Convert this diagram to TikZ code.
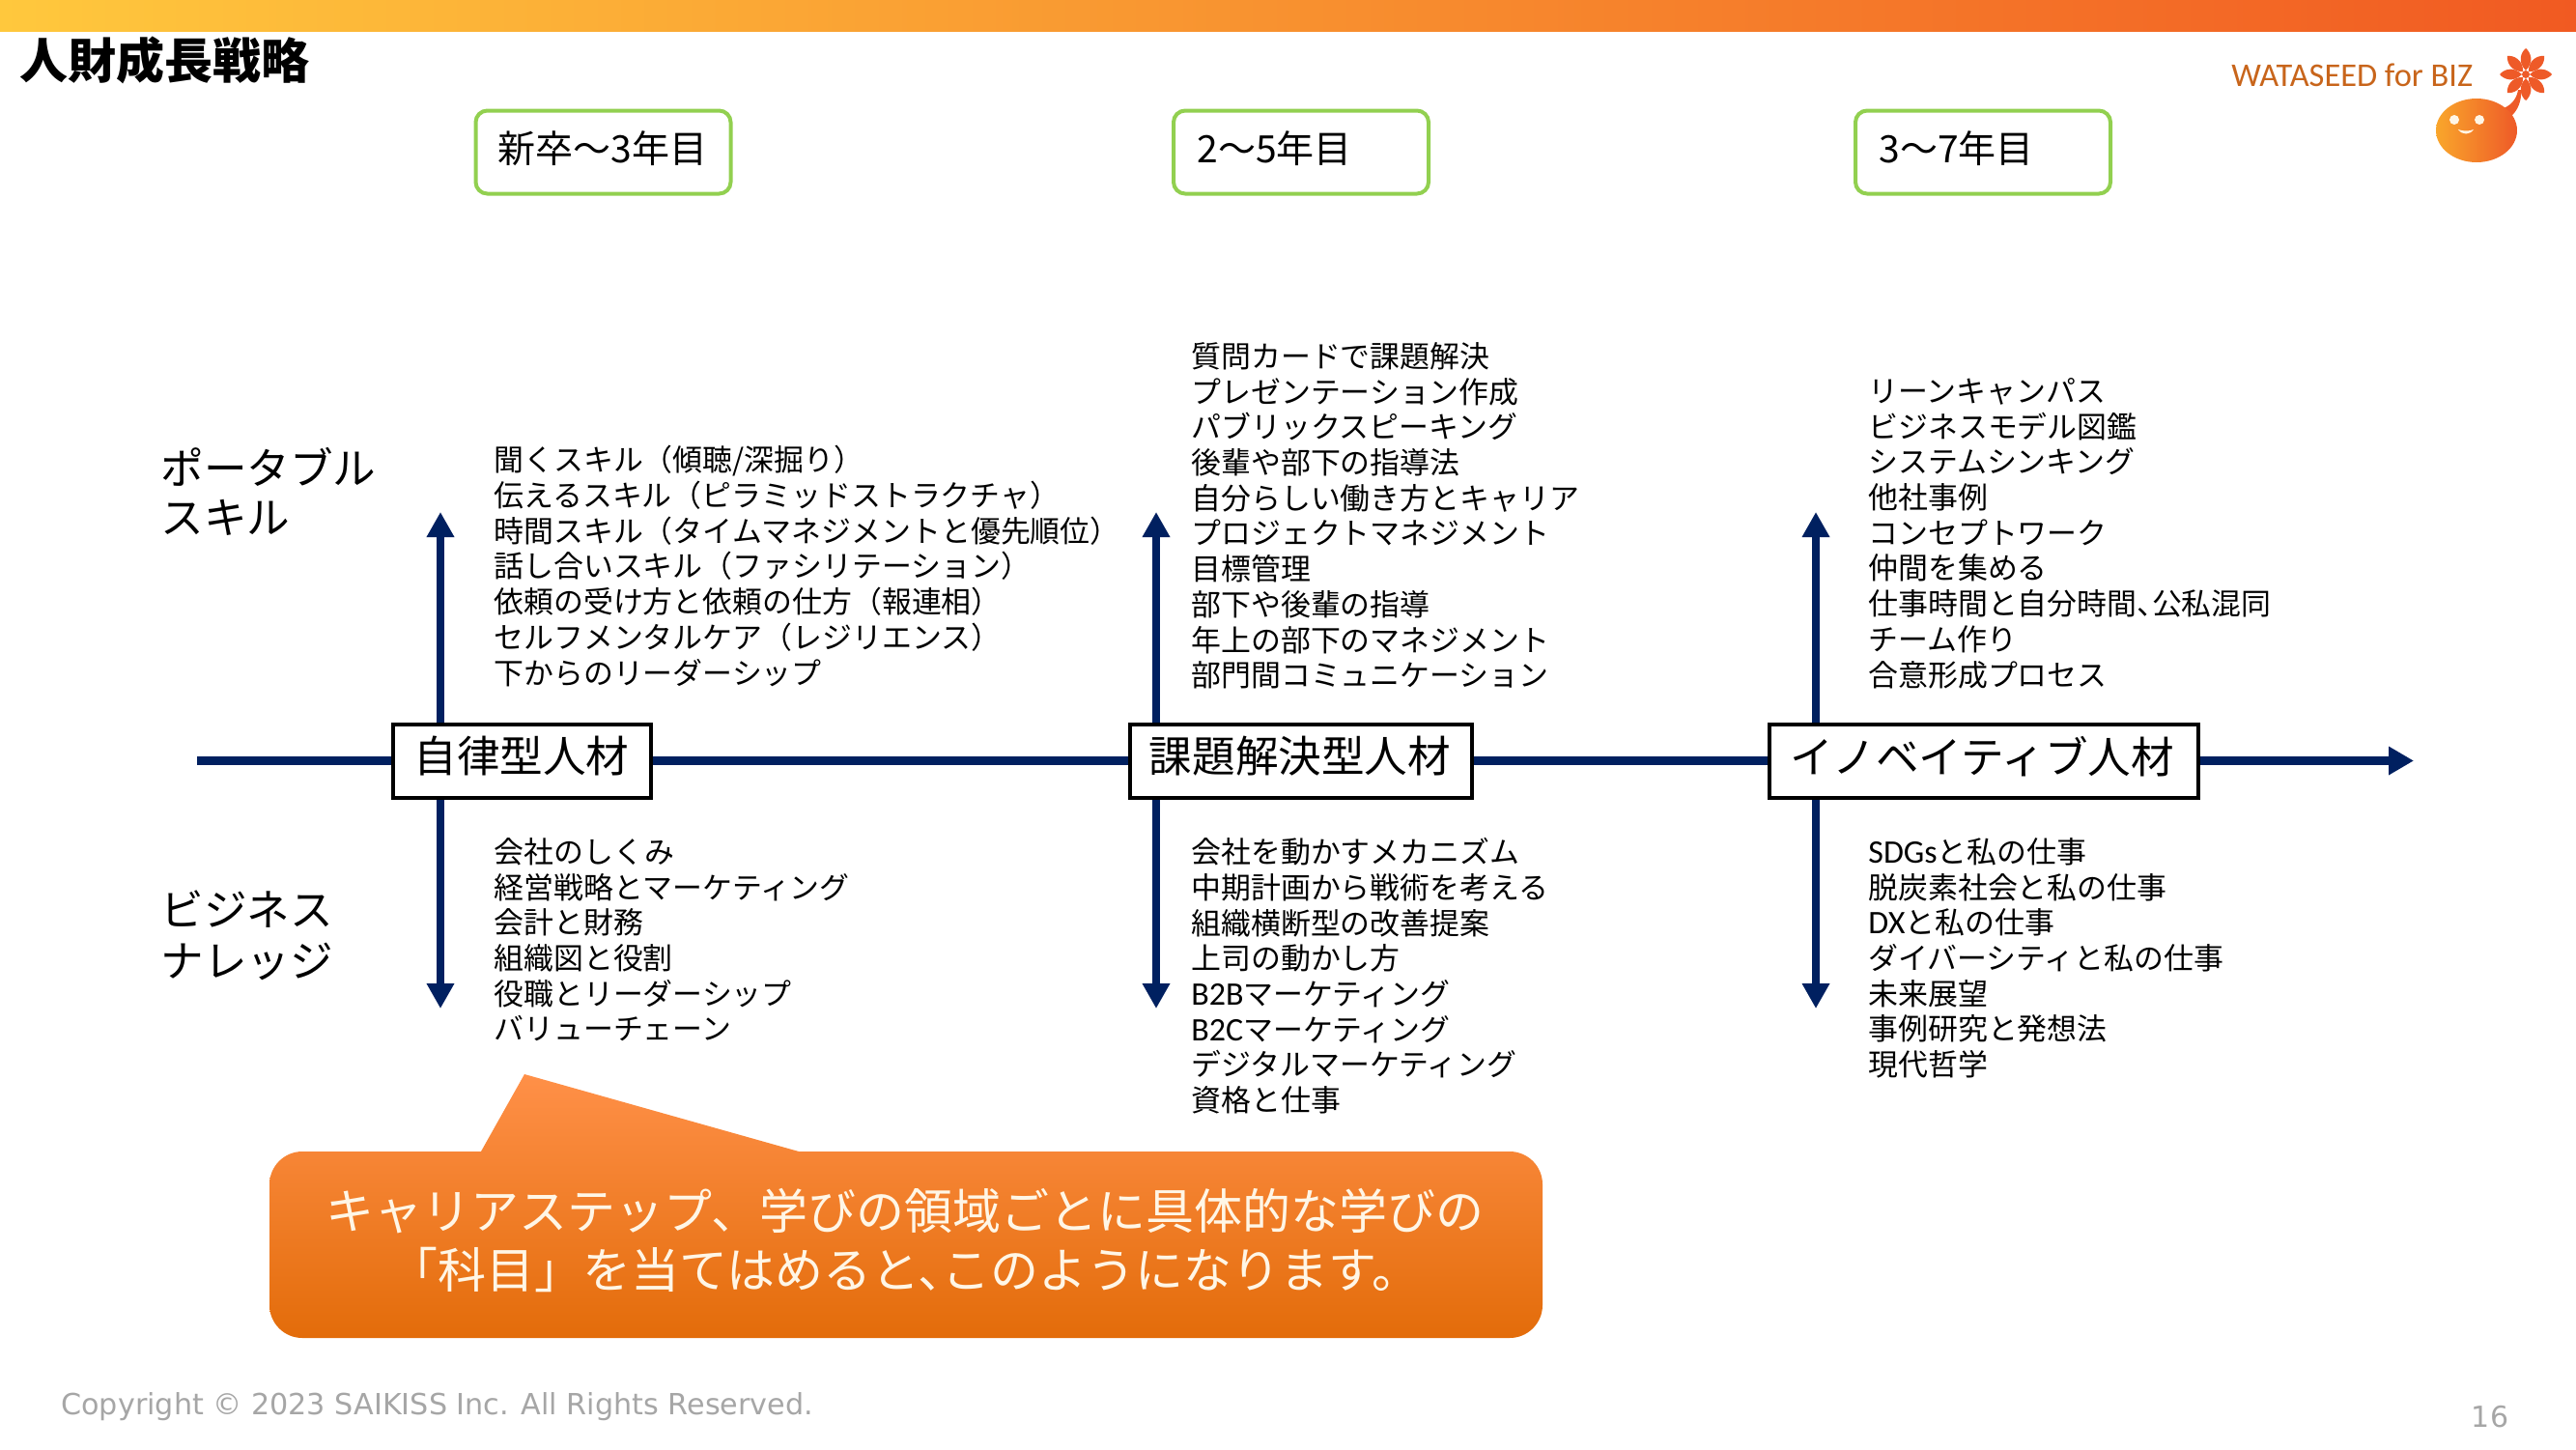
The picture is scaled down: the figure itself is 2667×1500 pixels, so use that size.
\documentclass[tikz,border=0pt]{standalone}
\usepackage{fontspec}
\setmainfont{Noto Sans CJK JP}
\newfontfamily\latinfont{DejaVu Sans}
\newfontfamily\logofont{Carlito}
\newcommand{\ltn}[1]{{\logofont\fontsize{17}{18.35}\selectfont #1}}
\newcommand{\nten}{、\kern-0.5em}
\usetikzlibrary{arrows.meta,shadings}
\definecolor{navy}{HTML}{002060}
\definecolor{grn}{HTML}{92D050}
\definecolor{logoor}{HTML}{C8651B}
\definecolor{flower}{HTML}{EE5A28}
\definecolor{barL}{HTML}{FFC83D}
\definecolor{barM}{HTML}{F9A033}
\definecolor{barR}{HTML}{F15A22}
\definecolor{calT}{HTML}{FF9048}
\definecolor{calB}{HTML}{E36C0A}
\definecolor{bodyL}{HTML}{F9A62B}
\definecolor{cream}{HTML}{FFF6E6}
\tikzset{
  lst/.style={inner sep=0pt,anchor=north west,align=left,font=\fontsize{15.45}{18.35}\selectfont},
  stage/.style={draw=grn,line width=2pt,rounded corners=6pt,minimum width=132pt,minimum height=43pt,inner sep=0pt,fill=white},
  stagetxt/.style={inner sep=0pt,anchor=west,font=\fontsize{19.5}{22}\selectfont},
  kind/.style={draw=black,line width=2pt,fill=white,inner sep=0pt,minimum height=38pt},
  kindtxt/.style={inner sep=0pt,font=\fontsize{22.3}{26}\selectfont},
  axisln/.style={draw=navy,line width=4.5pt},
  vert/.style={draw=navy,line width=4pt,-{Triangle[length=13pt,width=13.5pt]}},
  side/.style={inner sep=0pt,anchor=west,font=\fontsize{22.3}{26}\selectfont},
}
\begin{document}
\begin{tikzpicture}[x=0.5pt,y=-0.5pt]
\useasboundingbox (0,0) rectangle (2667,1500);
\fill[white] (0,0) rectangle (2667,1500);
% top bar
\shade[left color=barL,middle color=barM,right color=barR] (0,0) rectangle (2667,32);
\node[inner sep=0pt,anchor=west,font=\bfseries\fontsize{25}{30}\selectfont] (title) at (20,62) {人財成長戦略};
% logo
\node[inner sep=0pt,anchor=west,text=logoor,font=\logofont\fontsize{17.2}{20}\selectfont] (logo) at (2310,78) {WATASEED for BIZ};
\foreach \a in {0,45,...,315}
  \fill[flower,rotate around={\a:(2615,77)}] (2619,77) .. controls (2628,68) and (2638,72) .. (2642,77) .. controls (2638,82) and (2628,86) .. (2619,77) -- cycle;
\fill[flower] (2615,77) circle (4);
\fill[flower] (2592,112) .. controls (2602,108) and (2606,100) .. (2607,93) -- (2610,93) .. controls (2611,105) and (2606,115) .. (2600,120) -- cycle;
\shade[left color=bodyL,right color=flower,shading=axis] (2564,135) ellipse (42 and 33);
\fill[cream] (2541,124) circle (5) (2567,124) circle (5);
\fill[cream] (2545,134) .. controls (2550,136) and (2557,136) .. (2561,134) .. controls (2557,140) and (2549,140) .. (2545,134) -- cycle;
% stages
\node[stage] (s1) at (624.5,157.5) {};
\node[stage] (s2) at (1347,157.5) {};
\node[stage] (s3) at (2053,157.5) {};
\node[stagetxt] (s1t) at (515,154) {新卒〜3年目};
\node[stagetxt] (s2t) at (1239,154) {2〜5年目};
\node[stagetxt] (s3t) at (1945,154) {3〜7年目};
% side labels
\node[side] (p1) at (166,483) {ポータブル};
\node[side] (p2) at (166,536) {スキル};
\node[side] (b1) at (166,941) {ビジネス};
\node[side] (b2) at (166,995) {ナレッジ};
% axis
\coordinate (axL) at (204,787.5);
\coordinate (axR) at (2499,787.5);
\node[kind,minimum width=133.5pt] (k1) at (540.5,787.5) {};
\node[kind,minimum width=177pt] (k2) at (1347,787.5) {};
\node[kind,minimum width=222pt] (k3) at (2054,787.5) {};
\node[kindtxt] (k1t) at (540,783) {自律型人材};
\node[kindtxt] (k2t) at (1346,783) {課題解決型人材};
\node[kindtxt] (k3t) at (2052,783) {イノベイティブ人材};
\draw[axisln] (axL) -- (k1);
\draw[axisln] (k1) -- (k2);
\draw[axisln] (k2) -- (k3);
\draw[axisln,-{Triangle[length=13pt,width=14pt]}] (k3) -- (axR);
% verticals
\coordinate (u1) at (456,530); \coordinate (d1) at (456,1044);
\coordinate (u2) at (1197,530); \coordinate (d2) at (1197,1044);
\coordinate (u3) at (1880,530); \coordinate (d3) at (1880,1044);
\draw[vert] (u1 |- k1.north) -- (u1);
\draw[vert] (d1 |- k1.south) -- (d1);
\draw[vert] (u2 |- k2.north) -- (u2);
\draw[vert] (d2 |- k2.south) -- (d2);
\draw[vert] (u3 |- k3.north) -- (u3);
\draw[vert] (d3 |- k3.south) -- (d3);
% lists
\node[lst] (l1t) at (511,461) {聞くスキル（傾聴/深掘り）\\伝えるスキル（ピラミッドストラクチャ）\\時間スキル（タイムマネジメントと優先順位）\\話し合いスキル（ファシリテーション）\\依頼の受け方と依頼の仕方（報連相）\\セルフメンタルケア（レジリエンス）\\下からのリーダーシップ};
\node[lst] (l1b) at (511,867) {会社のしくみ\\経営戦略とマーケティング\\会計と財務\\組織図と役割\\役職とリーダーシップ\\バリューチェーン};
\node[lst] (l2t) at (1233,354) {質問カードで課題解決\\プレゼンテーション作成\\パブリックスピーキング\\後輩や部下の指導法\\自分らしい働き方とキャリア\\プロジェクトマネジメント\\目標管理\\部下や後輩の指導\\年上の部下のマネジメント\\部門間コミュニケーション};
\node[lst] (l2b) at (1233,867) {会社を動かすメカニズム\\中期計画から戦術を考える\\組織横断型の改善提案\\上司の動かし方\\\ltn{B2B}マーケティング\\\ltn{B2C}マーケティング\\デジタルマーケティング\\資格と仕事};
\node[lst] (l3t) at (1934,391) {リーンキャンパス\\ビジネスモデル図鑑\\システムシンキング\\他社事例\\コンセプトワーク\\仲間を集める\\仕事時間と自分時間\nten 公私混同\\チーム作り\\合意形成プロセス};
\node[lst] (l3b) at (1934,867) {\ltn{SDGs}と私の仕事\\脱炭素社会と私の仕事\\\ltn{DX}と私の仕事\\ダイバーシティと私の仕事\\未来展望\\事例研究と発想法\\現代哲学};
% callout
\shade[top color=calT,bottom color=calB,shading=axis]
  (498,1192) -- (543,1112) -- (827,1192) [rounded corners=17pt] -- (1597,1192) -- (1597,1385) -- (279,1385) -- (279,1192) [sharp corners] -- cycle;
\node[inner sep=0pt,align=center,text=cream,font=\fontsize{25}{30.5}\selectfont] (msg) at (937,1284) {キャリアステップ、学びの領域ごとに具体的な学びの\\「科目」を当てはめると\nten このようになります。};
% footer
\node[inner sep=0pt,anchor=west,text=black!35,font=\latinfont\fontsize{15.1}{20}\selectfont] (copy) at (63,1456) {Copyright © 2023 SAIKISS Inc. All Rights Reserved.};
\node[inner sep=0pt,text=black!35,font=\latinfont\fontsize{15}{18}\selectfont] (pg) at (2578,1467) {16};
\end{tikzpicture}
\end{document}
